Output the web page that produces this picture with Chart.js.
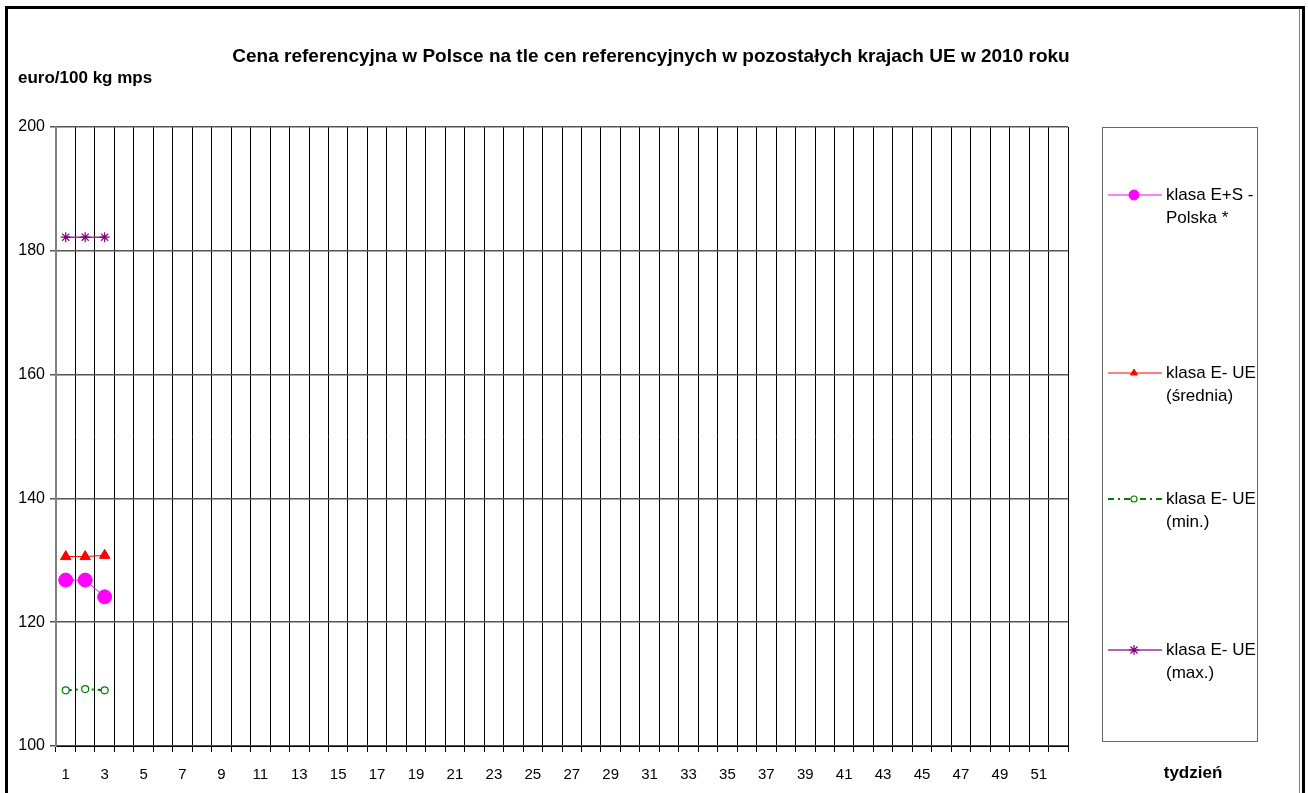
<!DOCTYPE html>
<html>
<head>
<meta charset="utf-8">
<title>Cena referencyjna</title>
<script src="https://cdn.jsdelivr.net/npm/chart.js"></script>
<style>
  html, body { margin: 0; padding: 0; background: #fff; overflow: hidden; }
  #frame {
    position: absolute; left: 5px; top: 6px; width: 1294px; height: 820px;
    border: 3px solid #000; box-shadow: inset -2px 0 0 #fff, inset -3px 0 0 #888;
  }
  canvas { position: absolute; left: 0; top: 0; }
</style>
</head>
<body>
<div id="frame"></div>
<canvas id="chart" width="1308" height="793"></canvas>
<script>
// tygodnie 2010 roku
const weeks = Array.from({ length: 52 }, (_, i) => String(i + 1));

// euro/100 kg mps, only first three weeks are reported
const polskaES = [126.8, 126.8, 124.1];
const ueSrednia = [130.6, 130.6, 130.8];
const ueMin = [109.0, 109.2, 109.0];
const ueMax = [182.2, 182.2, 182.2];

const yTicks = [100, 120, 140, 160, 180, 200];

const titleText = 'Cena referencyjna w Polsce na tle cen referencyjnych w pozostałych krajach UE w 2010 roku';
const yTitle = 'euro/100 kg mps';
const xTitle = 'tydzień';

const legendLabels = [
  ['klasa E+S -', 'Polska *'],
  ['klasa E- UE', '(średnia)'],
  ['klasa E- UE', '(min.)'],
  ['klasa E- UE', '(max.)']
];

const FONT = '"Liberation Sans", Arial, sans-serif';

// extra texts and the boxed legend, drawn after the chart
const decorPlugin = {
  id: 'decor',
  afterDraw(chart) {
    const ctx = chart.ctx;
    ctx.save();
    ctx.fillStyle = '#000';
    ctx.textBaseline = 'middle';

    ctx.font = 'bold 19px ' + FONT;
    ctx.textAlign = 'center';
    ctx.fillText(titleText, 651, 57);

    ctx.font = 'bold 17px ' + FONT;
    ctx.textAlign = 'left';
    ctx.fillText(yTitle, 18, 78);

    ctx.textAlign = 'center';
    ctx.fillText(xTitle, 1193, 773);

    // legend box
    ctx.strokeStyle = '#666';
    ctx.lineWidth = 1;
    ctx.strokeRect(1102.5, 127.5, 155, 614);

    const rows = [195, 373, 499, 650];
    chart.data.datasets.forEach((ds, i) => {
      const y = rows[i];
      ctx.save();
      ctx.strokeStyle = ds.borderColor;
      ctx.lineWidth = ds.borderWidth;
      ctx.setLineDash(ds.borderDash || []);
      ctx.beginPath();
      ctx.moveTo(1108, y);
      ctx.lineTo(1162, y);
      ctx.stroke();
      ctx.restore();

      ctx.save();
      ctx.fillStyle = ds.pointBackgroundColor;
      ctx.strokeStyle = ds.pointBorderColor;
      ctx.lineWidth = ds.pointBorderWidth;
      Chart.helpers.drawPoint(ctx, {
        pointStyle: ds.pointStyle,
        radius: ds.legendRadius,
        borderWidth: ds.pointBorderWidth
      }, 1134, y);
      ctx.restore();

      ctx.font = '17px ' + FONT;
      ctx.fillStyle = '#000';
      ctx.textAlign = 'left';
      ctx.fillText(legendLabels[i][0], 1166, y);
      ctx.fillText(legendLabels[i][1], 1166, y + 23);
    });
    ctx.restore();
  }
};

new Chart(document.getElementById('chart'), {
  type: 'line',
  data: {
    labels: weeks,
    datasets: [
      {
        label: legendLabels[0].join(' '),
        data: polskaES,
        borderColor: '#ff00ff',
        borderWidth: 1,
        pointStyle: 'circle',
        pointRadius: 7,
        legendRadius: 5,
        pointBackgroundColor: '#ff00ff',
        pointBorderColor: '#ff00ff',
        pointBorderWidth: 1
      },
      {
        label: legendLabels[1].join(' '),
        data: ueSrednia,
        borderColor: '#ff0000',
        borderWidth: 1,
        pointStyle: 'triangle',
        pointRadius: 6,
        legendRadius: 4,
        pointBackgroundColor: '#ff0000',
        pointBorderColor: '#ff0000',
        pointBorderWidth: 1
      },
      {
        label: legendLabels[2].join(' '),
        data: ueMin,
        borderColor: '#008000',
        borderWidth: 2,
        borderDash: [6, 4, 2, 4],
        pointStyle: 'circle',
        pointRadius: 3.5,
        legendRadius: 3,
        pointBackgroundColor: '#ffffff',
        pointBorderColor: '#008000',
        pointBorderWidth: 1.2
      },
      {
        label: legendLabels[3].join(' '),
        data: ueMax,
        borderColor: '#993399',
        borderWidth: 1.5,
        pointStyle: 'star',
        pointRadius: 5,
        legendRadius: 5,
        pointBackgroundColor: '#800080',
        pointBorderColor: '#800080',
        pointBorderWidth: 1.2
      }
    ]
  },
  options: {
    responsive: false,
    animation: false,
    layout: { padding: { top: 127, right: 240, left: 0, bottom: 0 } },
    plugins: {
      legend: { display: false },
      title: { display: false },
      tooltip: { enabled: false }
    },
    scales: {
      x: {
        type: 'category',
        offset: true,
        afterFit(scale) { scale.height = 47; },
        grid: {
          offset: true,
          color: '#000',
          lineWidth: 1,
          tickLength: 6,
          drawTicks: true
        },
        border: { color: '#000', width: 1 },
        ticks: {
          autoSkip: false,
          maxRotation: 0,
          padding: 14,
          color: '#000',
          font: { family: FONT, size: 15 },
          callback(value, index) { return index % 2 === 0 ? weeks[index] : ''; }
        }
      },
      y: {
        min: 100,
        max: 200,
        afterFit(scale) { scale.width = 56; },
        afterBuildTicks(scale) { scale.ticks = yTicks.map(v => ({ value: v })); },
        grid: {
          color: '#555',
          lineWidth: 1.5,
          tickLength: 6
        },
        border: { color: '#808080', width: 2 },
        ticks: {
          padding: 5,
          color: '#000',
          font: { family: FONT, size: 16 }
        }
      }
    }
  },
  plugins: [decorPlugin]
});
</script>
</body>
</html>
